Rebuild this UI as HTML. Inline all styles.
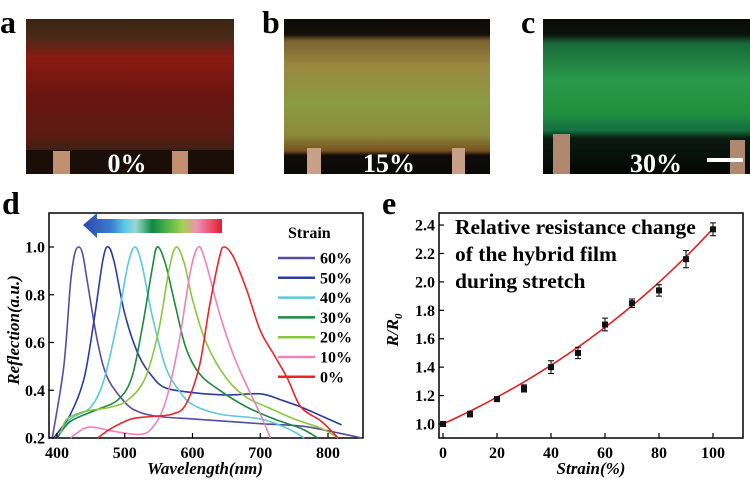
<!DOCTYPE html>
<html><head><meta charset="utf-8"><style>
html,body{margin:0;padding:0;background:#fff;width:750px;height:480px;overflow:hidden}
svg{display:block;font-family:"Liberation Serif",serif;font-weight:bold}
</style></head><body>
<svg id="s" width="750" height="480" viewBox="0 0 750 480">
<defs>
<linearGradient id="ga" x1="0" y1="0" x2="0" y2="1">
<stop offset="0" stop-color="#3a2412"/><stop offset="0.12" stop-color="#4a2a18"/><stop offset="0.25" stop-color="#8a1a12"/><stop offset="0.5" stop-color="#6a1510"/><stop offset="0.75" stop-color="#5a1a12"/><stop offset="0.86" stop-color="#3a2214"/><stop offset="1" stop-color="#2a1a10"/></linearGradient>
<linearGradient id="gb" x1="0" y1="0" x2="0" y2="1">
<stop offset="0" stop-color="#0e0c08"/><stop offset="0.1" stop-color="#120e08"/><stop offset="0.14" stop-color="#7a6030"/><stop offset="0.3" stop-color="#9a8840"/><stop offset="0.55" stop-color="#8a9a40"/><stop offset="0.75" stop-color="#8a8a3a"/><stop offset="0.85" stop-color="#7a5020"/><stop offset="0.88" stop-color="#0e0c0a"/><stop offset="1" stop-color="#0a0a08"/></linearGradient>
<linearGradient id="gc" x1="0" y1="0" x2="0" y2="1">
<stop offset="0" stop-color="#080a08"/><stop offset="0.1" stop-color="#0a120c"/><stop offset="0.16" stop-color="#1a6a3a"/><stop offset="0.4" stop-color="#2a9a4a"/><stop offset="0.6" stop-color="#20903f"/><stop offset="0.72" stop-color="#157040"/><stop offset="0.77" stop-color="#0a1a10"/><stop offset="1" stop-color="#050605"/></linearGradient>
<linearGradient id="gar" x1="0" y1="0" x2="1" y2="0">
<stop offset="0" stop-color="#2d4aa8"/><stop offset="0.2" stop-color="#3a7ad0"/><stop offset="0.3" stop-color="#5ac8e8"/><stop offset="0.38" stop-color="#9ad8d0"/><stop offset="0.5" stop-color="#0e8a40"/><stop offset="0.62" stop-color="#5ab84a"/><stop offset="0.72" stop-color="#a8d050"/><stop offset="0.82" stop-color="#f090b8"/><stop offset="1" stop-color="#e81a2a"/></linearGradient>
</defs>
<rect x="26" y="19" width="208" height="155" fill="url(#ga)"/>
<rect x="26" y="150" width="208" height="24" fill="#1a0f08"/>
<rect x="53" y="151" width="17" height="23" fill="#c09070"/>
<rect x="172" y="151" width="16" height="23" fill="#c09070"/>
<text x="127" y="172" font-size="26" fill="#fff" text-anchor="middle">0%</text>
<rect x="284" y="19" width="206" height="155" fill="url(#gb)"/>
<rect x="307" y="148" width="14" height="26" fill="#c8a088"/>
<rect x="452" y="148" width="13" height="26" fill="#c8a088"/>
<text x="389" y="172" font-size="26" fill="#fff" text-anchor="middle">15%</text>
<rect x="543" y="19" width="207" height="155" fill="url(#gc)"/>
<rect x="553" y="134" width="17" height="40" fill="#b08870"/>
<rect x="730" y="140" width="15" height="34" fill="#b08870"/>
<text x="656" y="172" font-size="26" fill="#fff" text-anchor="middle">30%</text>
<rect x="707" y="158" width="36" height="4" fill="#fff"/>
<text x="0" y="33" font-size="32">a</text>
<text x="262" y="33" font-size="32">b</text>
<text x="521" y="33" font-size="32">c</text>
<text x="2" y="214" font-size="32">d</text>
<text x="382" y="214" font-size="32">e</text>
<rect x="49" y="213" width="314" height="225" fill="none" stroke="#000" stroke-width="1.5"/>
<polygon points="83,225 97,213 97,219 222,219 222,233 97,233 97,238" fill="url(#gar)"/>
<g id="dcurves" fill="none" stroke-width="1.6"></g>
<g id="dax" font-size="16"></g>
<text x="288" y="238" font-size="16">Strain</text>
<g id="dleg" font-size="16"></g>
<text transform="translate(19,330) rotate(-90)" font-size="17" font-style="italic" text-anchor="middle">Reflection(a.u.)</text>
<text x="205" y="474" font-size="17" font-style="italic" text-anchor="middle">Wavelength(nm)</text>
<rect x="439" y="213" width="304" height="225" fill="none" stroke="#000" stroke-width="1.5"/>
<g id="eax" font-size="16"></g>
<text x="455" y="234" font-size="21.5">Relative resistance change</text>
<text x="455" y="261" font-size="21.5">of the hybrid film</text>
<text x="455" y="288" font-size="21.5">during stretch</text>
<text transform="translate(398,330) rotate(-90)" font-size="17" font-style="italic" text-anchor="middle">R/R<tspan font-size="11" dy="4">0</tspan></text>
<text x="591" y="474" font-size="17" font-style="italic" text-anchor="middle">Strain(%)</text>
<path id="fit" fill="none" stroke="#e02020" stroke-width="1.6"/>
<g id="pts"></g>
</svg>
<script>
var NS="http://www.w3.org/2000/svg";
function el(t,a,p,txt){var e=document.createElementNS(NS,t);for(var k in a)e.setAttribute(k,a[k]);if(txt!=null)e.textContent=txt;p.appendChild(e);return e;}
function X(w){return 57+(w-400)*0.6775;}
function Y(v){return 438-(v-0.2)*238.75;}
function smooth(pts){var d="M"+pts[0][0].toFixed(1)+","+pts[0][1].toFixed(1);
 for(var i=0;i<pts.length-1;i++){var p0=pts[Math.max(0,i-1)],p1=pts[i],p2=pts[i+1],p3=pts[Math.min(pts.length-1,i+2)];
 var c1x=p1[0]+(p2[0]-p0[0])/6,c1y=p1[1]+(p2[1]-p0[1])/6,c2x=p2[0]-(p3[0]-p1[0])/6,c2y=p2[1]-(p3[1]-p1[1])/6;
 d+="C"+c1x.toFixed(1)+","+c1y.toFixed(1)+" "+c2x.toFixed(1)+","+c2y.toFixed(1)+" "+p2[0].toFixed(1)+","+p2[1].toFixed(1);}
 return d;}
var C=[
["#5b4aa0","60%",[[393,.2],[410,.5],[420,.85],[426,.97],[432,1],[438,.97],[445,.85],[460,.6],[475,.45],[500,.35],[520,.31],[550,.29],[600,.28],[650,.27],[700,.26],[760,.25],[800,.23],[850,.2]]],
["#2b3d9c","50%",[[395,.2],[420,.3],[440,.45],[455,.7],[468,.95],[476,1],[485,.93],[500,.72],[520,.55],[540,.46],[560,.41],[600,.39],[650,.38],[700,.385],[730,.36],[760,.33],[800,.28],[820,.255]]],
["#5bc8dc","40%",[[400,.2],[420,.28],[450,.33],[470,.45],[490,.7],[505,.93],[515,1],[525,.93],[540,.72],[560,.5],[580,.4],[600,.34],[640,.3],[700,.28],[740,.24],[765,.2]]],
["#1a8a3e","30%",[[400,.2],[420,.27],[460,.32],[490,.36],[510,.45],[525,.65],[540,.9],[548,1],[560,.93],[575,.75],[590,.58],[610,.47],[640,.4],[680,.33],[720,.28],[760,.24],[785,.2]]],
["#8cc63e","20%",[[405,.22],[415,.28],[440,.31],[480,.33],[505,.36],[530,.45],[550,.65],[565,.9],[576,1],[588,.93],[600,.78],[620,.6],[650,.45],[680,.37],[710,.33],[750,.28],[790,.24],[815,.2]]],
["#ee82b8","10%",[[420,.2],[440,.24],[455,.245],[480,.23],[520,.215],[540,.24],[560,.35],[580,.6],[597,.9],[609,1],[620,.93],[640,.72],[660,.55],[680,.42],[700,.3],[715,.2]]],
["#e8262a","0%",[[460,.2],[480,.24],[510,.28],[540,.29],[570,.3],[590,.34],[610,.5],[625,.75],[640,.96],[647,1],[660,.96],[680,.82],[700,.65],[720,.55],[740,.45],[760,.33],[790,.27],[815,.2]]]];
var g=document.getElementById("dcurves"),lg=document.getElementById("dleg");
C.forEach(function(c,i){
 var d=smooth(c[2].map(function(p){return [X(p[0]),Y(p[1])]}));
 el("path",{d:d,stroke:c[0],"stroke-linejoin":"round"},g);
 var y=258+i*19.8;
 el("line",{x1:278,x2:315,y1:y,y2:y,stroke:c[0],"stroke-width":2.5},lg);
 el("text",{x:320,y:y+5.5},lg,c[1]);
});
var ax=document.getElementById("dax");
[400,500,600,700,800].forEach(function(w){var x=X(w);el("line",{x1:x,x2:x,y1:438,y2:433,stroke:"#000","stroke-width":1.2},ax);el("text",{x:x,y:458,"text-anchor":"middle"},ax,w);});
[.2,.4,.6,.8,1].forEach(function(v){var y=Y(v);el("line",{x1:49,x2:54,y1:y,y2:y,stroke:"#000","stroke-width":1.2},ax);el("text",{x:45,y:y+5.5,"text-anchor":"end"},ax,v.toFixed(1));});
function EX(s){return 443+s*2.7;} function EY(v){return 424-(v-1)*142.1;}
var ea=document.getElementById("eax");
for(var s=0;s<=100;s+=20){var x=EX(s);el("line",{x1:x,x2:x,y1:438,y2:433,stroke:"#000","stroke-width":1.2},ea);el("text",{x:x,y:458,"text-anchor":"middle"},ea,s);}
for(var v=1;v<=2.41;v+=0.2){var y=EY(v);el("line",{x1:439,x2:444,y1:y,y2:y,stroke:"#000","stroke-width":1.2},ea);el("text",{x:435,y:y+5.5,"text-anchor":"end"},ea,v.toFixed(1));}
var d="";for(var s=0;s<=100;s+=2){d+=(s?"L":"M")+EX(s).toFixed(1)+","+EY(Math.exp(0.00865*s)).toFixed(1);}
document.getElementById("fit").setAttribute("d",d);
var P=[[0,1,.01],[10,1.07,.02],[20,1.175,.015],[30,1.25,.025],[40,1.4,.045],[50,1.5,.04],[60,1.7,.045],[70,1.85,.03],[80,1.94,.04],[90,2.16,.06],[100,2.37,.045]];
var pg=document.getElementById("pts");
P.forEach(function(p){var x=EX(p[0]),y=EY(p[1]),a=EY(p[1]+p[2]),b=EY(p[1]-p[2]);
el("path",{d:"M"+x+","+a+"V"+b+"M"+(x-3)+","+a+"H"+(x+3)+"M"+(x-3)+","+b+"H"+(x+3),stroke:"#000","stroke-width":1,fill:"none"},pg);
el("rect",{x:x-3,y:y-3,width:6,height:6,fill:"#111"},pg);});
</script>
</body></html>
